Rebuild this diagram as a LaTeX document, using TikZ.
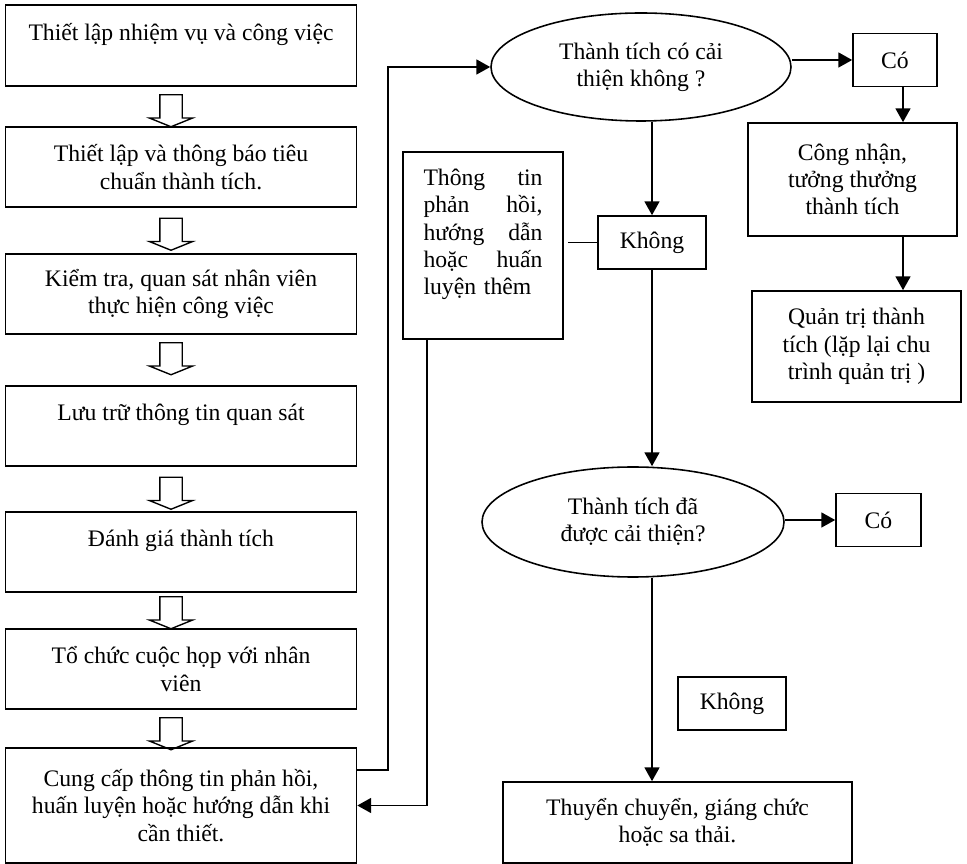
\documentclass[tikz,border=0pt]{standalone}
\usepackage{fontspec}
\setmainfont{Liberation Serif}
\usetikzlibrary{shapes.geometric,shapes.arrows,arrows.meta,calc}
\newcommand{\pxu}{0.507pt}

\begin{document}
\begin{tikzpicture}[
    x=\pxu, y=-\pxu,
    box/.style={rectangle, draw, line width=0.8pt, inner sep=0pt, align=center, font=\fontsize{12}{13.8}\selectfont},
    stepbox/.style={box, minimum width=351*\pxu, minimum height=80*\pxu},
    answer/.style={box, minimum width=85*\pxu, minimum height=53*\pxu},
    decision/.style={ellipse, draw, line width=0.8pt, inner sep=0pt, align=center, font=\fontsize{12}{13.8}\selectfont},
    hollow/.style={single arrow, draw, line width=0.7pt, shape border rotate=270, inner sep=10.5*\pxu, single arrow head extend=10.5*\pxu, single arrow tip angle=136, minimum height=32*\pxu},
    arrow/.style={->, >={Triangle[length=7pt, width=7.5pt]}, line width=1pt},
    line/.style={line width=0.8pt}
]
\useasboundingbox (0,0) rectangle (967,864);

% Left column: the steps
\node[stepbox, minimum height=81*\pxu] (set) at (181,45.5) {Thiết lập nhiệm vụ và công việc\\\mbox{}};
\node[stepbox] (std) at (181,167) {Thiết lập và thông báo tiêu\\chuẩn thành tích.};
\node[stepbox] (check) at (181,294) {Kiểm tra, quan sát nhân viên\\thực hiện công việc};
\node[stepbox] (store) at (181,426) {Lưu trữ thông tin quan sát\\\mbox{}};
\node[stepbox] (eval) at (181,552) {Đánh giá thành tích\\\mbox{}};
\node[stepbox] (meet) at (181,669) {Tổ chức cuộc họp với nhân\\viên};
\node[stepbox, minimum height=115*\pxu] (give) at (181,805.5) {Cung cấp thông tin phản hồi,\\huấn luyện hoặc hướng dẫn khi\\cần thiết.};

% Hollow arrows between the steps
\node[hollow] (h1) at (171,108.5) {};
\node[hollow] (h2) at (171,232) {};
\node[hollow] (h3) at (171,356.5) {};
\node[hollow] (h4) at (171,491) {};
\node[hollow] (h5) at (171,610.5) {};
\node[hollow] (h6) at (171,731.5) {};

% First check
\node[decision, minimum width=300*\pxu, minimum height=108*\pxu] (q1) at (641,67) {Thành tích có cải\\thiện không ?};
\node[answer, minimum width=84*\pxu] (yes1) at (895,60) {Có};
\node[box, minimum width=209*\pxu, minimum height=113*\pxu] (award) at (852.5,179.5) {Công nhận,\\tưởng thưởng\\thành tích};
\node[box, minimum width=209*\pxu, minimum height=111*\pxu] (admin) at (856.5,346.5) {Quản trị thành\\tích (lặp lại chu\\trình quản trị )};
\node[answer, minimum width=108*\pxu] (no1) at (652,242.5) {Không};

% Feedback box
\node[box, minimum width=160*\pxu, minimum height=187*\pxu, text width=119*\pxu, align=left] (fb) at (483,245.5) {Thông\hfill tin\\phản\hfill hồi,\\hướng\hfill dẫn\\hoặc\hfill huấn\\luyện thêm\\\mbox{}};

% Second check
\node[decision, minimum width=302*\pxu, minimum height=110*\pxu] (q2) at (633,522) {Thành tích đã\\được cải thiện?};
\node[answer] (yes2) at (878.5,520) {Có};
\node[answer, minimum width=108*\pxu] (no2) at (732,703.5) {Không};
\node[box, minimum width=349*\pxu, minimum height=81*\pxu] (final) at (677.5,822.5) {Thuyển chuyển, giáng chức\\hoặc sa thải.};

% Arrows
\draw[arrow] ($(give.east)+(0,-35.5)$) -- ++(31,0) |- (q1.west);
\draw[arrow] ($(fb.south west)+(25,0)$) |- (give.east);
\draw[line] (no1.west) -- ($(no1.west -| fb.east)+(4,0)$);
\draw[arrow] (no1.north |- q1.south) -- (no1.north);
\draw[arrow] (q1.east |- yes1.west) -- (yes1.west);
\coordinate (rx) at ($(yes1.south)+(8,0)$);
\draw[arrow] (rx) -- (rx |- award.north);
\draw[arrow] (award.south -| rx) -- (admin.north -| rx);
\draw[arrow] (no1.south) -- (no1.south |- q2.north);
\draw[arrow] (q2.east |- yes2.west) -- (yes2.west);
\draw[arrow] (no1.south |- q2.south) -- (no1.south |- final.north);

\end{tikzpicture}
\end{document}
